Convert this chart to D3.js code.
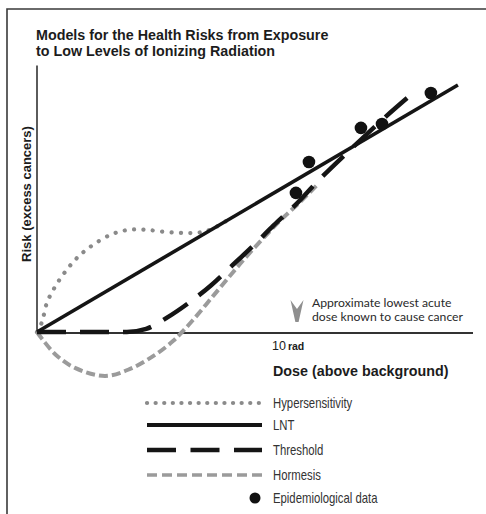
<!DOCTYPE html>
<html><head><meta charset="utf-8">
<script src="https://cdn.jsdelivr.net/npm/d3@7"></script>
<style>
html,body{margin:0;padding:0;background:#fff;}
svg{display:block;}
</style></head>
<body>
<script>
// ---- data (dose units, risk units) ----
const lnt = [[0, 0], [16.19, 9.5]];
const hypersensitivity = [[0,0],[0.19,0.38],[0.38,1.12],[0.69,1.73],[1.08,2.31],[1.54,2.85],[2.04,3.27],[2.81,3.73],[3.46,3.92],[4.08,3.94],[4.85,3.86],[5.62,3.81],[6.27,3.83],[6.77,3.98],[7.4,4.35]];
const threshold = [[0,0],[3.46,0],[4.2,0.12],[5,0.55],[5.88,1.15],[6.7,1.8],[7.5,2.55],[8.3,3.3],[9.1,4.1],[9.9,4.85],[10.77,5.77],[12.04,7.0],[13.19,8.08],[14.46,9.19]];
const hormesis = [[0,0],[0.23,-0.31],[0.73,-0.88],[1.46,-1.38],[2.62,-1.69],[3.58,-1.42],[4.54,-0.88],[5.23,-0.35],[5.58,0],[6.0,0.46],[6.77,1.38],[7.54,2.3],[8.19,3.05],[9.35,4.28],[10.12,5.0],[10.77,5.65]];
const epidemiological = [[9.96,5.35],[10.46,6.54],[12.46,7.85],[13.27,8.0],[15.15,9.19]];
const acuteDose = 10;
const tickValues = [10];
const tickLabels = ["10"];
const tickUnit = "rad";
const titleLines = ["Models for the Health Risks from Exposure","to Low Levels of Ionizing Radiation"];
const xLabel = "Dose (above background)";
const yLabel = "Risk (excess cancers)";
const annotationLines = ["Approximate lowest acute","dose known to cause cancer"];
const legendItems = ["Hypersensitivity","LNT","Threshold","Hormesis","Epidemiological data"];

const W = 486, H = 514;
const svg = d3.select("body").append("svg").attr("width", W).attr("height", H);

const x = d3.scaleLinear().domain([0, 16.77]).range([37, 473]);
const y = d3.scaleLinear().domain([0, 10]).range([332, 72]);

const BLACK = "#151515", GREY = "#9b9b9b", DOTGREY = "#8a8a8a";

// frame
svg.append("path").attr("d", `M7,${H} L7,9 L${W},9`).attr("fill","none").attr("stroke","#3a3a3a").attr("stroke-width",1.6);

// title
svg.append("g").selectAll("text").data(titleLines).join("text")
  .attr("x", 36).attr("y", (d,i)=>40+i*16)
  .attr("font-family","Liberation Sans, Arial, sans-serif").attr("font-weight","bold")
  .attr("font-size", 14.3).attr("fill","#1c1c1c").text(d=>d);

// axes
svg.append("line").attr("x1", x(0)).attr("x2", x(0)).attr("y1", y(10.25)).attr("y2", y(0)+1)
  .attr("stroke","#333").attr("stroke-width",1.6);
svg.append("line").attr("x1", x(0)).attr("x2", x(16.77)).attr("y1", y(0)+1).attr("y2", y(0)+1)
  .attr("stroke","#333").attr("stroke-width",1.8);

// tick label
const tl = svg.append("g").selectAll("text").data(tickValues).join("text")
  .attr("x", d=>x(d)-25).attr("y", y(0)+18)
  .attr("font-family","Liberation Sans, Arial, sans-serif").attr("fill","#1c1c1c");
tl.append("tspan").attr("font-size",12.5).text((d,i)=>tickLabels[i]);
tl.append("tspan").attr("font-size",10.5).attr("font-weight","bold").attr("dx",2).text(tickUnit);

// axis titles
svg.append("text").attr("x", 273).attr("y", 376)
  .attr("font-family","Liberation Sans, Arial, sans-serif").attr("font-weight","bold")
  .attr("font-size",14.3).attr("fill","#1c1c1c").text(xLabel);
svg.append("text").attr("transform","translate(31,194) rotate(-90)").attr("text-anchor","middle")
  .attr("font-family","Liberation Sans, Arial, sans-serif").attr("font-weight","bold")
  .attr("font-size",13).attr("fill","#1c1c1c").text(yLabel);

const line = d3.line().x(d=>x(d[0])).y(d=>y(d[1])).curve(d3.curveMonotoneX);
const lineC = d3.line().x(d=>x(d[0])).y(d=>y(d[1])).curve(d3.curveCatmullRom.alpha(0.5));

// curves
svg.append("path").datum(hypersensitivity).attr("d", lineC).attr("fill","none")
  .attr("stroke",DOTGREY).attr("stroke-width",4.2).attr("stroke-linecap","round").attr("stroke-dasharray","0.1 9.3");
svg.append("path").datum(hormesis).attr("d", lineC).attr("fill","none")
  .attr("stroke",GREY).attr("stroke-width",4).attr("stroke-dasharray","9 4");
svg.append("path").datum(lnt).attr("d", line).attr("fill","none")
  .attr("stroke",BLACK).attr("stroke-width",3.6);
svg.append("path").datum(threshold).attr("d", line).attr("fill","none")
  .attr("stroke",BLACK).attr("stroke-width",4.5).attr("stroke-dasharray","29 14");

// epidemiological data
svg.append("g").selectAll("circle").data(epidemiological).join("circle")
  .attr("cx", d=>x(d[0])).attr("cy", d=>y(d[1])).attr("r", 6.3).attr("fill","#111");

// acute dose marker
const ax = x(acuteDose), ay = 300;
svg.append("path").attr("d", `M${ax-6.5},${ay} L${ax},${ay+9} L${ax+6.5},${ay} L${ax+1.6},${ay+22} L${ax-1.6},${ay+22} Z`)
  .attr("fill","#8f8f8f");
svg.append("g").selectAll("text").data(annotationLines).join("text")
  .attr("x", ax+15).attr("y", (d,i)=>307+i*14)
  .attr("font-family","Lato, Open Sans, sans-serif").attr("font-size",12.2)
  .attr("fill","#2a2a2a").text(d=>d);

// legend
const lx0 = 147, lx1 = 262, ly = [403, 425, 450, 475, 498];
const lg = svg.append("g");
lg.append("line").attr("x1",lx0).attr("x2",lx1+0.5).attr("y1",ly[0]).attr("y2",ly[0])
  .attr("stroke",DOTGREY).attr("stroke-width",4.2).attr("stroke-linecap","round").attr("stroke-dasharray","0.1 8.5");
lg.append("line").attr("x1",lx0).attr("x2",lx1).attr("y1",ly[1]).attr("y2",ly[1])
  .attr("stroke",BLACK).attr("stroke-width",4);
lg.append("line").attr("x1",lx0).attr("x2",lx1).attr("y1",ly[2]).attr("y2",ly[2])
  .attr("stroke",BLACK).attr("stroke-width",4.5).attr("stroke-dasharray","29 14.5");
lg.append("line").attr("x1",lx0).attr("x2",lx1).attr("y1",ly[3]).attr("y2",ly[3])
  .attr("stroke",GREY).attr("stroke-width",3.5).attr("stroke-dasharray","10 5");
lg.append("circle").attr("cx",255).attr("cy",ly[4]).attr("r",5.5).attr("fill","#111");
lg.selectAll("text").data(legendItems).join("text")
  .attr("transform",(d,i)=>`translate(273,${ly[i]+5}) scale(0.81,1)`)
  .attr("font-family","Liberation Sans, Arial, sans-serif")
  .attr("font-size",14).attr("fill","#333").text(d=>d);
</script>
</body></html>
